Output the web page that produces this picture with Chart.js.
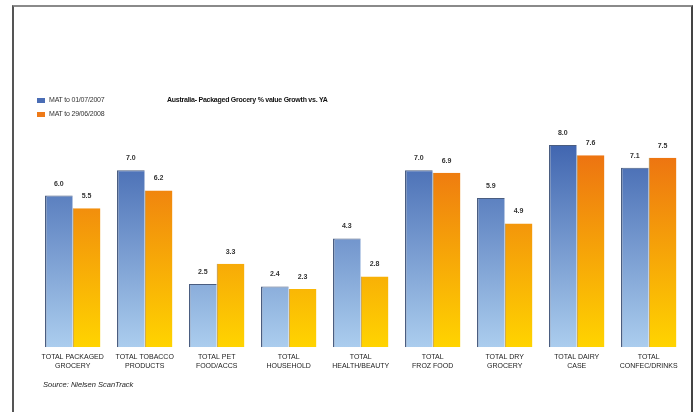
<!DOCTYPE html>
<html>
<head>
<meta charset="utf-8">
<script src="https://cdn.jsdelivr.net/npm/chart.js@4/dist/chart.umd.min.js"></script>
<style>
  html, body { margin: 0; padding: 0; background: #fff; }
  #wrap { position: relative; width: 698px; height: 412px; overflow: hidden; font-family: "Liberation Sans", Arial, sans-serif; }
  #frame { position: absolute; left: 12px; top: 5px; width: 677px; height: 430px;
           border-left: 2px solid #555; border-top: 2px solid #8a8a8a; border-right: 2px solid #444; pointer-events: none; }
  canvas { position: absolute; left: 0; top: 0; }
  .title { position: absolute; left: 167px; top: 96px; font-size: 7px; font-weight: bold; color: #111; letter-spacing: -0.25px; white-space: nowrap; }
  .leg { position: absolute; left: 37px; font-size: 7px; color: #333; white-space: nowrap; letter-spacing: -0.2px; }
  .leg span { display: inline-block; width: 8px; height: 5px; margin-right: 4px; vertical-align: middle; }
  .source { position: absolute; left: 43px; top: 380px; font-size: 7.5px; font-style: italic; color: #222; white-space: nowrap; }
</style>
</head>
<body>
<div id="wrap">
  <canvas id="growthChart" width="698" height="412"></canvas>
  <div class="leg" style="top:96px"><span style="background:#4a6db5"></span>MAT to 01/07/2007</div>
  <div class="leg" style="top:110px"><span style="background:#ee7a18"></span>MAT to 29/06/2008</div>
  <div class="title">Australia- Packaged Grocery % value Growth vs. YA</div>
  <div class="source">Source: Nielsen ScanTrack</div>
  <div id="frame"></div>
</div>
<script>
const categories = [
    ["TOTAL PACKAGED", "GROCERY"],
    ["TOTAL TOBACCO", "PRODUCTS"],
    ["TOTAL PET", "FOOD/ACCS"],
    ["TOTAL", "HOUSEHOLD"],
    ["TOTAL", "HEALTH/BEAUTY"],
    ["TOTAL", "FROZ FOOD"],
    ["TOTAL DRY", "GROCERY"],
    ["TOTAL DAIRY", "CASE"],
    ["TOTAL", "CONFEC/DRINKS"]
];
const series2007 = [6.0, 7.0, 2.5, 2.4, 4.3, 7.0, 5.9, 8.0, 7.1];
const series2008 = [5.5, 6.2, 3.3, 2.3, 2.8, 6.9, 4.9, 7.6, 7.5];
const seriesNames = ["MAT to 01/07/2007", "MAT to 29/06/2008"];

// vertical gradient, dark at the top of the plot, light at the baseline
function barGradient(context, topColor, bottomColor) {
    const chart = context.chart;
    const area = chart.chartArea;
    if (!area) return topColor;
    const yScale = chart.scales.y;
    const g = chart.ctx.createLinearGradient(0, yScale.getPixelForValue(8), 0, area.bottom);
    g.addColorStop(0, topColor);
    g.addColorStop(1, bottomColor);
    return g;
}

// value labels above each bar
const valueLabels = {
    id: 'valueLabels',
    afterDatasetsDraw(chart) {
        const ctx = chart.ctx;
        ctx.save();
        ctx.font = 'bold 7px "Liberation Sans", Arial, sans-serif';
        ctx.fillStyle = '#333';
        ctx.textAlign = 'center';
        ctx.textBaseline = 'middle';
        chart.data.datasets.forEach((ds, i) => {
            chart.getDatasetMeta(i).data.forEach((bar, j) => {
                ctx.fillText(ds.data[j].toFixed(1), bar.x, bar.y - 12);
            });
        });
        ctx.restore();
    }
};

const ctx = document.getElementById('growthChart').getContext('2d');
const growthChart = new Chart(ctx, {
    type: 'bar',
    data: {
        labels: categories,
        datasets: [{
            label: seriesNames[0],
            data: series2007,
            backgroundColor: (c) => barGradient(c, '#4166b0', '#abcdee'),
            borderColor: '#4a5d80',
            borderWidth: { left: 1.5, top: 1, right: 0, bottom: 0 },
            borderSkipped: false
        }, {
            label: seriesNames[1],
            data: series2008,
            backgroundColor: (c) => barGradient(c, '#ec6f12', '#ffd400'),
            borderColor: '#a8782a',
            borderWidth: { left: 1, top: 0, right: 0, bottom: 0 },
            borderSkipped: false
        }]
    },
    options: {
        responsive: false,
        animation: false,
        layout: { padding: { left: 36.7, right: 13.3, top: 94.5, bottom: 36 } },
        plugins: {
            legend: { display: false },
            title: { display: false },
            tooltip: { enabled: false }
        },
        datasets: { bar: { categoryPercentage: 0.77, barPercentage: 1.0 } },
        scales: {
            x: {
                grid: { display: false, drawTicks: false },
                border: { display: false },
                ticks: {
                    padding: 6,
                    color: '#222',
                    font: { size: 7, family: '"Liberation Sans", Arial, sans-serif' },
                    maxRotation: 0,
                    autoSkip: false
                }
            },
            y: {
                display: false,
                min: 0,
                max: 10
            }
        }
    },
    plugins: [valueLabels]
});
</script>
</body>
</html>
